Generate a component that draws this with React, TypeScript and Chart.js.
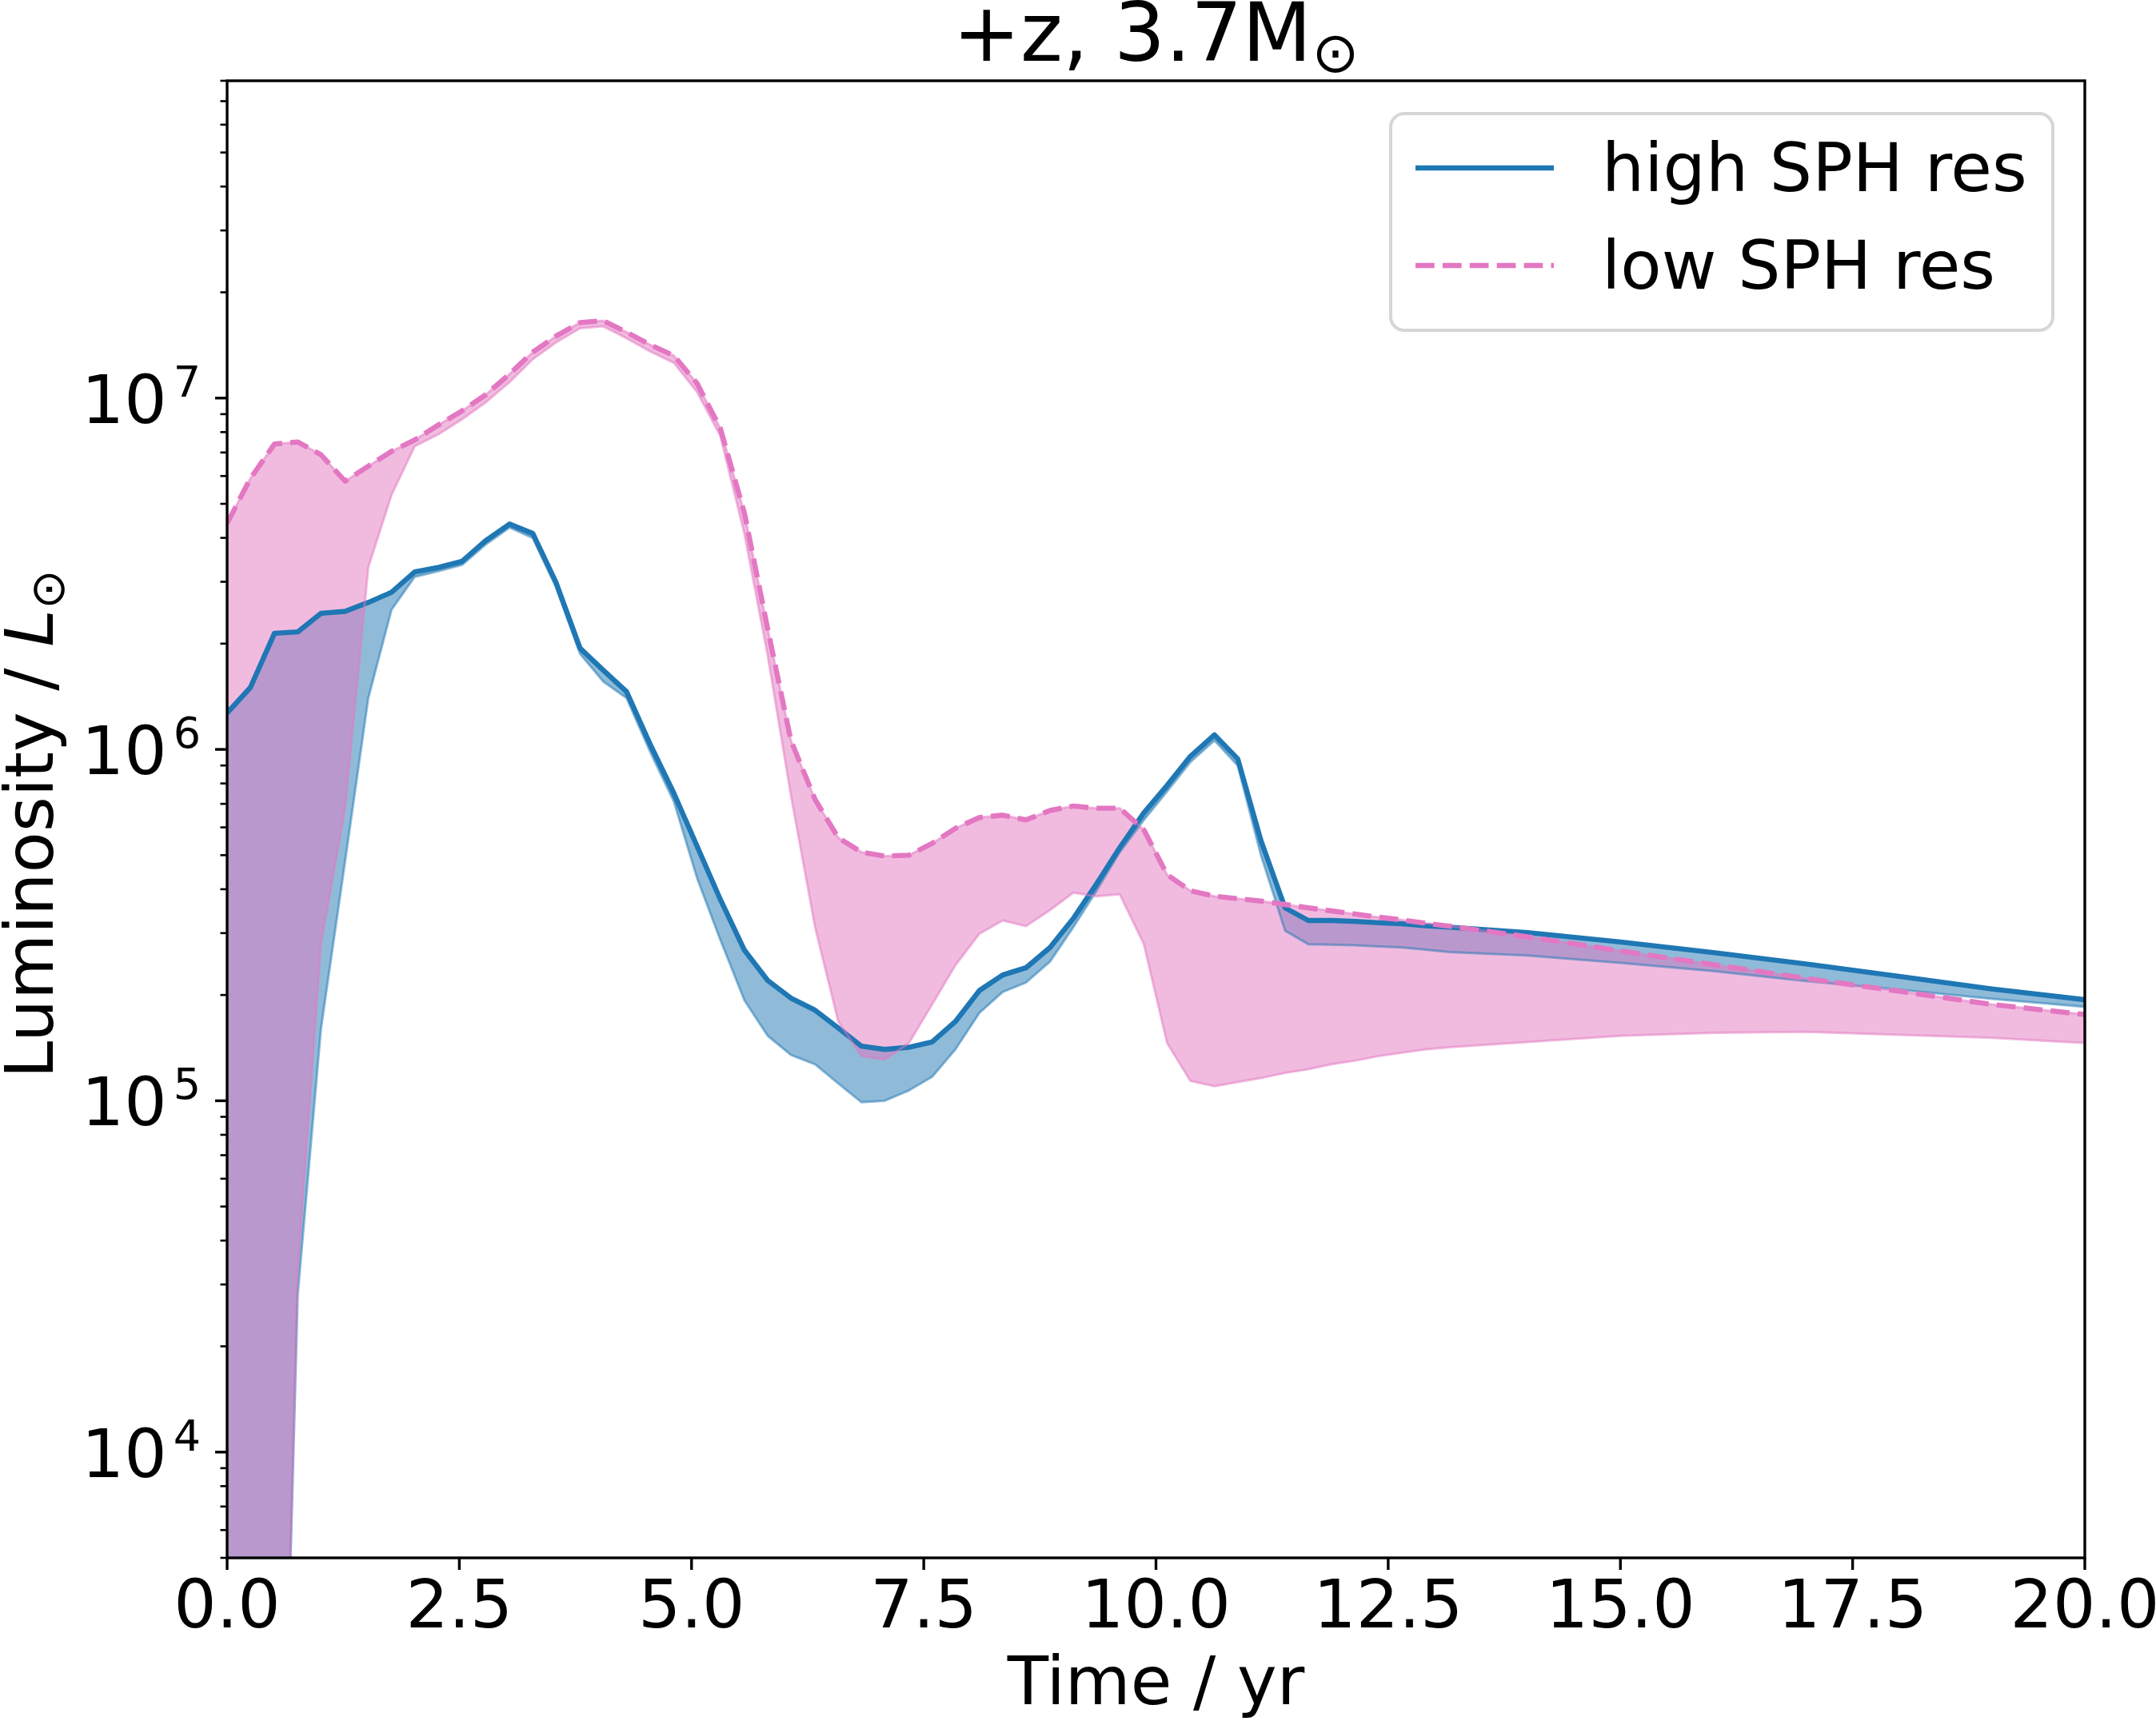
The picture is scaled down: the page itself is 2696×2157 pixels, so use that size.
import React, { useEffect, useRef } from 'react';
import { Chart, registerables } from 'chart.js';

Chart.register(...registerables);

// ---------------- data ----------------
const times = [
  0.0, 0.25, 0.51, 0.76, 1.01, 1.27, 1.52, 1.77, 2.02, 2.28,
  2.53, 2.78, 3.04, 3.29, 3.54, 3.8, 4.05, 4.3, 4.55, 4.81,
  5.06, 5.31, 5.57, 5.82, 6.07, 6.33, 6.58, 6.83, 7.08, 7.34,
  7.59, 7.84, 8.1, 8.35, 8.6, 8.86, 9.11, 9.36, 9.61, 9.87,
  10.12, 10.37, 10.63, 10.88, 11.13, 11.39, 11.64, 11.89, 12.14, 12.4,
  12.65, 12.9, 13.16, 14.0, 15.0, 16.0, 17.0, 18.0, 19.0, 20.0,
];

// high SPH res: central line and lower edge of its band
const highResMean = [
  1.27e6, 1.5e6, 2.14e6, 2.16e6, 2.44e6, 2.47e6, 2.62e6, 2.8e6, 3.2e6, 3.3e6,
  3.43e6, 3.92e6, 4.38e6, 4.12e6, 2.99e6, 1.94e6, 1.68e6, 1.46e6, 1.04e6, 7.5e5,
  5.3e5, 3.74e5, 2.68e5, 2.2e5, 1.96e5, 1.81e5, 1.61e5, 1.43e5, 1.4e5, 1.42e5,
  1.47e5, 1.68e5, 2.06e5, 2.28e5, 2.39e5, 2.73e5, 3.3e5, 4.14e5, 5.25e5, 6.6e5,
  7.9e5, 9.55e5, 1.1e6, 9.4e5, 5.5e5, 3.54e5, 3.26e5, 3.26e5, 3.24e5, 3.21e5,
  3.19e5, 3.15e5, 3.12e5, 3.01e5, 2.83e5, 2.64e5, 2.45e5, 2.26e5, 2.08e5, 1.94e5,
];
const highResLow = [
  100, 100, 100, 2.8e4, 1.6e5, 4.8e5, 1.4e6, 2.5e6, 3.1e6, 3.22e6,
  3.35e6, 3.82e6, 4.28e6, 4.0e6, 2.9e6, 1.87e6, 1.56e6, 1.4e6, 9.9e5, 7.1e5,
  4.3e5, 2.87e5, 1.93e5, 1.53e5, 1.35e5, 1.27e5, 1.12e5, 9.9e4, 1.0e5, 1.07e5,
  1.17e5, 1.4e5, 1.78e5, 2.04e5, 2.17e5, 2.49e5, 3.12e5, 3.96e5, 5.1e5, 6.3e5,
  7.6e5, 9.2e5, 1.06e6, 9.0e5, 5.0e5, 3.05e5, 2.79e5, 2.78e5, 2.77e5, 2.75e5,
  2.73e5, 2.69e5, 2.65e5, 2.59e5, 2.47e5, 2.34e5, 2.19e5, 2.07e5, 1.95e5, 1.85e5,
];

// low SPH res: central line and lower edge of its band
const lowResMean = [
  4.4e6, 5.9e6, 7.4e6, 7.5e6, 6.9e6, 5.8e6, 6.4e6, 7.05e6, 7.6e6, 8.4e6,
  9.2e6, 1.02e7, 1.17e7, 1.35e7, 1.5e7, 1.64e7, 1.66e7, 1.54e7, 1.42e7, 1.32e7,
  1.1e7, 8.2e6, 4.7e6, 2.2e6, 1.06e6, 7.2e5, 5.6e5, 5.1e5, 4.97e5, 5.0e5,
  5.4e5, 5.96e5, 6.4e5, 6.5e5, 6.3e5, 6.7e5, 6.9e5, 6.8e5, 6.8e5, 5.9e5,
  4.4e5, 3.96e5, 3.82e5, 3.76e5, 3.7e5, 3.62e5, 3.54e5, 3.47e5, 3.4e5, 3.33e5,
  3.27e5, 3.2e5, 3.14e5, 2.93e5, 2.67e5, 2.44e5, 2.23e5, 2.05e5, 1.88e5, 1.76e5,
];
const lowResLow = [
  100, 100, 100, 3.3e4, 2.8e5, 6.8e5, 3.3e6, 5.3e6, 7.3e6, 7.9e6,
  8.7e6, 9.7e6, 1.11e7, 1.29e7, 1.44e7, 1.58e7, 1.6e7, 1.48e7, 1.36e7, 1.26e7,
  1.04e7, 7.8e6, 4.1e6, 1.85e6, 7.4e5, 3.12e5, 1.68e5, 1.34e5, 1.31e5, 1.46e5,
  1.88e5, 2.43e5, 2.99e5, 3.26e5, 3.14e5, 3.49e5, 3.91e5, 3.82e5, 3.87e5, 2.79e5,
  1.46e5, 1.14e5, 1.1e5, 1.13e5, 1.16e5, 1.2e5, 1.23e5, 1.27e5, 1.3e5, 1.34e5,
  1.37e5, 1.4e5, 1.42e5, 1.47e5, 1.53e5, 1.56e5, 1.57e5, 1.54e5, 1.51e5, 1.46e5,
];

const xTickValues = [0, 2.5, 5, 7.5, 10, 12.5, 15, 17.5, 20];
const yMajorTicks = [1e4, 1e5, 1e6, 1e7];
const yMajorBase = '10';
const yMajorExponents = ['4', '5', '6', '7'];
const seriesNames = ['high SPH res', 'low SPH res'];
const chartTitle = '+z, 3.7M';
const titleSubscript = '\u2299';
const xAxisTitle = 'Time / yr';
const yAxisTitle = 'Luminosity / ';
const yAxisSymbol = 'L';
const yAxisSubscript = '\u2299';

const X_MIN = 0;
const X_MAX = 20;
const Y_MIN = 5000;
const Y_MAX = 8e7;

// ---------------- styling ----------------
const W = 2696;
const H = 2157;
const FONT = "'DejaVu Sans', sans-serif";
const BLUE = '#1f77b4';
const PINK = '#e377c2';
const BLUE_A = 'rgba(31,119,180,0.5)';
const PINK_A = 'rgba(227,119,194,0.5)';
const LINE_W = 6.4;
const EDGE_W = 3;
const DASH = [23.7, 10.2];
const FS = 84;
const EXP_FS = 54;

const yTickValues: number[] = [];
for (let e = 3; e <= 7; e++) {
  for (let m = 1; m <= 9; m++) {
    const v = m * Math.pow(10, e);
    if (v >= Y_MIN && v <= Y_MAX * 1.0001) yTickValues.push(v);
  }
}

const decorPlugin = {
  id: 'decor',
  afterDraw(chart: any) {
    const { ctx, chartArea: a, scales } = chart;
    const xs = scales.x;
    const ys = scales.y;
    ctx.save();
    ctx.strokeStyle = '#000';
    ctx.fillStyle = '#000';
    ctx.lineCap = 'butt';

    // y ticks (major + minor)
    ys.ticks.forEach((t: any) => {
      const p = ys.getPixelForValue(t.value);
      const major = yMajorTicks.some((m) => Math.abs(m - t.value) / m < 1e-9);
      ctx.lineWidth = major ? 3.4 : 2.6;
      const len = major ? 15 : 8.5;
      ctx.beginPath();
      ctx.moveTo(a.left, p);
      ctx.lineTo(a.left - len, p);
      ctx.stroke();
    });
    // x ticks
    xs.ticks.forEach((t: any) => {
      const p = xs.getPixelForValue(t.value);
      ctx.lineWidth = 3.4;
      ctx.beginPath();
      ctx.moveTo(p, a.bottom);
      ctx.lineTo(p, a.bottom + 15);
      ctx.stroke();
    });
    // frame
    ctx.lineWidth = 3.4;
    ctx.strokeRect(a.left, a.top, a.right - a.left, a.bottom - a.top);

    // y tick labels: 10^n
    ctx.textBaseline = 'alphabetic';
    ctx.textAlign = 'left';
    yMajorTicks.forEach((v, k) => {
      const p = ys.getPixelForValue(v);
      ctx.font = `${FS}px ${FONT}`;
      const wb = ctx.measureText(yMajorBase).width;
      ctx.font = `${EXP_FS}px ${FONT}`;
      const we = ctx.measureText(yMajorExponents[k]).width;
      const gap = 8;
      const right = a.left - 33;
      const x0 = right - we - gap - wb;
      ctx.font = `${FS}px ${FONT}`;
      ctx.fillText(yMajorBase, x0, p + 31);
      ctx.font = `${EXP_FS}px ${FONT}`;
      ctx.fillText(yMajorExponents[k], x0 + wb + gap, p - 2);
    });

    // chart title
    const TF = FS * 1.2;
    ctx.font = `${TF}px ${FONT}`;
    const w1 = ctx.measureText(chartTitle).width;
    ctx.font = `${TF * 0.7}px ${FONT}`;
    const w2 = ctx.measureText(titleSubscript).width;
    const cx = (a.left + a.right) / 2;
    const tx = cx - (w1 + w2) / 2;
    ctx.font = `${TF}px ${FONT}`;
    ctx.fillText(chartTitle, tx, a.top - 25);
    ctx.font = `${TF * 0.7}px ${FONT}`;
    ctx.fillText(titleSubscript, tx + w1, a.top - 11);

    // y axis title (rotated)
    ctx.save();
    const cy = (a.top + a.bottom) / 2 + 6;
    ctx.translate(66, cy);
    ctx.rotate(-Math.PI / 2);
    ctx.font = `${FS}px ${FONT}`;
    const p1 = ctx.measureText(yAxisTitle).width;
    ctx.font = `italic ${FS}px ${FONT}`;
    const p2 = ctx.measureText(yAxisSymbol).width;
    ctx.font = `${FS * 0.7}px ${FONT}`;
    const p3 = ctx.measureText(yAxisSubscript).width;
    let yx = -(p1 + p2 + p3) / 2;
    ctx.font = `${FS}px ${FONT}`;
    ctx.fillText(yAxisTitle, yx, 0);
    yx += p1;
    ctx.font = `italic ${FS}px ${FONT}`;
    ctx.fillText(yAxisSymbol, yx, 0);
    yx += p2;
    ctx.font = `${FS * 0.7}px ${FONT}`;
    ctx.fillText(yAxisSubscript, yx, 14);
    ctx.restore();

    // legend
    const lx = 1739;
    const ly = 142;
    const lw = 828;
    const lh = 271;
    ctx.beginPath();
    (ctx as any).roundRect(lx, ly, lw, lh, 17);
    ctx.fillStyle = 'rgba(255,255,255,0.8)';
    ctx.fill();
    ctx.lineWidth = 4;
    ctx.strokeStyle = 'rgba(204,204,204,0.8)';
    ctx.stroke();

    const entries = [
      { name: chart.data.datasets[3].label, color: BLUE, dash: [] as number[], y: 210 },
      { name: chart.data.datasets[0].label, color: PINK, dash: DASH, y: 332 },
    ];
    entries.forEach((e) => {
      ctx.beginPath();
      ctx.setLineDash(e.dash);
      ctx.strokeStyle = e.color;
      ctx.lineWidth = LINE_W;
      ctx.moveTo(1770, e.y);
      ctx.lineTo(1943, e.y);
      ctx.stroke();
      ctx.setLineDash([]);
      ctx.fillStyle = '#000';
      ctx.font = `${FS}px ${FONT}`;
      ctx.fillText(e.name, 2003, e.y + 29);
    });
    ctx.restore();
  },
};

export default function App() {
  const ref = useRef<HTMLCanvasElement>(null);
  useEffect(() => {
    const canvas = ref.current;
    if (!canvas) return;
    const pts = (arr: number[]) => times.map((t, i) => ({ x: t, y: arr[i] }));
    const common = {
      pointRadius: 0,
      pointHoverRadius: 0,
      tension: 0,
      clip: 0,
      borderJoinStyle: 'round' as const,
    };
    const chart = new Chart(canvas, {
      type: 'line',
      data: {
        datasets: [
          { ...common, label: seriesNames[1], data: pts(lowResMean), borderColor: PINK, borderWidth: LINE_W, borderDash: DASH, fill: false },
          { ...common, label: 'low band top', data: pts(lowResMean), borderColor: PINK_A, borderWidth: EDGE_W, fill: false },
          { ...common, label: 'low band', data: pts(lowResLow), borderColor: PINK_A, borderWidth: EDGE_W, backgroundColor: PINK_A, fill: 1 },
          { ...common, label: seriesNames[0], data: pts(highResMean), borderColor: BLUE, borderWidth: LINE_W, fill: false },
          { ...common, label: 'high band top', data: pts(highResMean), borderColor: BLUE_A, borderWidth: EDGE_W, fill: false },
          { ...common, label: 'high band', data: pts(highResLow), borderColor: BLUE_A, borderWidth: EDGE_W, backgroundColor: BLUE_A, fill: 4 },
        ] as any,
      },
      options: {
        animation: false,
        responsive: false,
        devicePixelRatio: 1,
        events: [],
        layout: { padding: { top: 101, right: 89, left: 0, bottom: 0 } },
        plugins: {
          legend: { display: false },
          title: { display: false },
          tooltip: { enabled: false },
          filler: { propagate: false, drawTime: 'beforeDatasetsDraw' },
        } as any,
        scales: {
          x: {
            type: 'linear',
            min: X_MIN,
            max: X_MAX,
            grid: { display: false, drawTicks: false },
            border: { display: false },
            ticks: {
              color: '#000',
              font: { family: FONT, size: FS },
              padding: 15,
              maxRotation: 0,
              autoSkip: false,
              callback: (v: any) => Number(v).toFixed(1),
            },
            title: {
              display: true,
              text: xAxisTitle,
              color: '#000',
              font: { family: FONT, size: FS, lineHeight: 1.15 },
              padding: { top: 0, bottom: 0 },
            },
            afterBuildTicks: (s: any) => {
              s.ticks = xTickValues.map((v) => ({ value: v }));
            },
            afterFit: (s: any) => {
              s.height = 209;
              s.paddingLeft = 0;
              s.paddingRight = 0;
            },
          },
          y: {
            type: 'logarithmic',
            min: Y_MIN,
            max: Y_MAX,
            grid: { display: false, drawTicks: false },
            border: { display: false },
            ticks: { display: false },
            afterBuildTicks: (s: any) => {
              s.ticks = yTickValues.map((v) => ({ value: v }));
            },
            afterFit: (s: any) => {
              s.width = 284;
              s.paddingTop = 0;
              s.paddingBottom = 0;
            },
          },
        } as any,
      },
      plugins: [decorPlugin],
    });
    return () => chart.destroy();
  }, []);

  return (
    <div style={{ position: 'absolute', left: 0, top: 0, width: W, height: H, background: '#fff' }}>
      <canvas ref={ref} width={W} height={H} style={{ display: 'block', width: W, height: H }} />
    </div>
  );
}
